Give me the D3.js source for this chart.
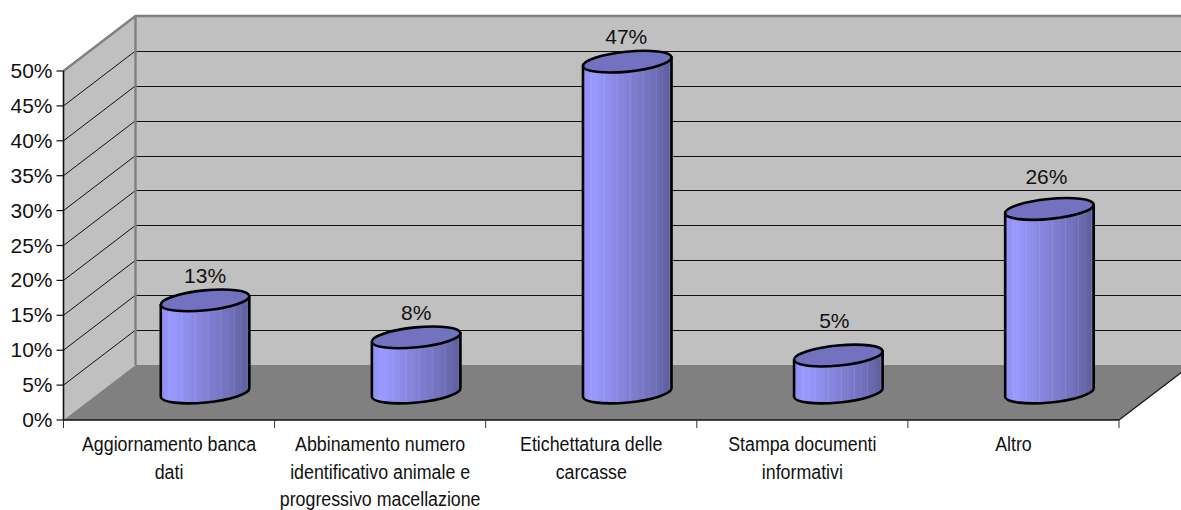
<!DOCTYPE html>
<html>
<head>
<meta charset="utf-8">
<script src="https://cdn.jsdelivr.net/npm/d3@7"></script>
<style>
html,body{margin:0;padding:0;background:#fff;overflow:hidden}
svg{display:block}
text{font-family:"Liberation Sans",Arial,sans-serif;fill:#111}
</style>
</head>
<body>
<svg id="c" width="1181" height="510"></svg>
<script>
const categories = [
  ["Aggiornamento banca","dati"],
  ["Abbinamento numero","identificativo animale e","progressivo macellazione"],
  ["Etichettatura delle","carcasse"],
  ["Stampa documenti","informativi"],
  ["Altro"]
];
const values = [13.2, 7.9, 47.4, 5.3, 26.3];
const valueLabels = ["13%","8%","47%","5%","26%"];
const yTicks = [0,5,10,15,20,25,30,35,40,45,50];
const labelShiftX = [0, 0, -1, -4, -3];
const labelLift = [17, 17, 17.5, 28, 25];

const svg = d3.select("#c");
const x = d3.scaleBand().domain(d3.range(categories.length)).range([63.5,1119]);
const y = d3.scaleLinear().domain([0,50]).range([420,71]);
const dx = 72, dy = -55;

const defs = svg.append("defs");
const grad = defs.append("linearGradient").attr("id","body");
[[0,"#8e8ef0"],[0.12,"#9999ff"],[0.45,"#8484dc"],[0.8,"#6f6fb9"],[1,"#5c5c9a"]]
  .forEach(([o,c])=>grad.append("stop").attr("offset",o).attr("stop-color",c));

// walls and floor
const yB = v => y(v)+dy;
const xL = 63.5, xR = 1119;
svg.append("path").attr("d",`M${xL},${y(0)}L${xL+dx},${yB(0)}V${yB(50)}L${xL},${y(50)}Z`).attr("fill","#c0c0c0");
svg.append("rect").attr("x",xL+dx).attr("y",yB(50)).attr("width",xR-xL).attr("height",y(0)-y(50)).attr("fill","#c0c0c0");
svg.append("path").attr("d",`M${xL},${y(0)}L${xL+dx},${yB(0)}H${xR+dx}L${xR},${y(0)}Z`).attr("fill","#808080");

// gridlines
yTicks.filter(t=>t>0&&t<50).forEach(t=>{
  svg.append("path").attr("fill","none").attr("stroke","#111").attr("stroke-width",1)
    .attr("d",`M${xL},${y(t)}L${xL+dx},${yB(t)}`);
  svg.append("line").attr("x1",xL+dx).attr("x2",xR+dx).attr("y1",yB(t)+0.4).attr("y2",yB(t)+0.4)
    .attr("stroke","#111").attr("stroke-width",1).attr("shape-rendering","crispEdges");
});
// wall edges
svg.append("path").attr("fill","none").attr("stroke","#808080").attr("stroke-width",2.4)
  .attr("d",`M${xL},${y(50)}L${xL+dx},${yB(50)}H${xR+dx}M${xL+dx},${yB(50)}V${yB(0)}`);

// axes
svg.append("path").attr("fill","none").attr("stroke","#111").attr("stroke-width",1.2)
  .attr("d",`M${xR},${y(0)}L${xR+dx},${yB(0)}`);
svg.append("path").attr("fill","none").attr("stroke","#111").attr("stroke-width",1.6)
  .attr("d",`M${xL},${y(50)}V${y(0)}H${xR}`);
yTicks.forEach(t=>{
  svg.append("line").attr("x1",xL-7).attr("x2",xL).attr("y1",y(t)).attr("y2",y(t)).attr("stroke","#111").attr("stroke-width",1.2);
  svg.append("text").attr("x",52.5).attr("y",y(t)+7).attr("text-anchor","end").attr("font-size",21).text(t+"%");
});
d3.range(categories.length+1).forEach(i=>{
  const px = i<categories.length ? x(i) : xR;
  svg.append("line").attr("x1",px).attr("x2",px).attr("y1",y(0)).attr("y2",y(0)+8).attr("stroke","#333").attr("stroke-width",1);
});

// cylinders
const a = 44.5, b = 10, rot = -5.7;
const th = rot*Math.PI/180, ex = a*Math.cos(th), ey = a*Math.sin(th);
values.forEach((v,i)=>{
  const cx = x(i)+x.bandwidth()/2+dx/2;
  const yb = y(0)+dy/2, yt = y(v)+dy/2;
  const g = svg.append("g");
  const bodyPath = `M${cx-ex},${yt-ey}L${cx-ex},${yb-ey}A${a},${b},${rot},0,0,${cx+ex},${yb+ey}L${cx+ex},${yt+ey}Z`;
  g.append("path").attr("d",bodyPath).attr("fill","url(#body)");
  const clipId = "cl"+i;
  defs.append("clipPath").attr("id",clipId).append("path").attr("d",bodyPath);
  const st = g.append("g").attr("clip-path",`url(#${clipId})`);
  // faint vertical facets
  d3.range(8,88,6.5).forEach((o,k)=>{
    st.append("rect").attr("x",cx-a+o).attr("y",yt-20).attr("width",1).attr("height",yb-yt+50)
      .attr("fill","#fff").attr("opacity",k%2?0.05:0.11);
  });
  g.append("path").attr("d",bodyPath).attr("fill","none").attr("stroke","#000").attr("stroke-width",2.6).attr("stroke-linejoin","round");
  g.append("ellipse").attr("cx",0).attr("cy",0).attr("rx",a).attr("ry",b)
    .attr("transform",`translate(${cx},${yt}) rotate(${rot})`)
    .attr("fill","#7272c0").attr("stroke","#000").attr("stroke-width",2.6);
  svg.append("text").attr("x",cx+labelShiftX[i]).attr("y",yt-labelLift[i]).attr("text-anchor","middle").attr("font-size",21).text(valueLabels[i]);
});

// category labels
categories.forEach((lines,i)=>{
  const cx = x(i)+x.bandwidth()/2;
  lines.forEach((l,k)=>{
    svg.append("text").attr("transform",`translate(${cx},${451+k*27.7}) scale(0.89,1)`)
      .attr("text-anchor","middle").attr("font-size",20).text(l);
  });
});
</script>
</body>
</html>
